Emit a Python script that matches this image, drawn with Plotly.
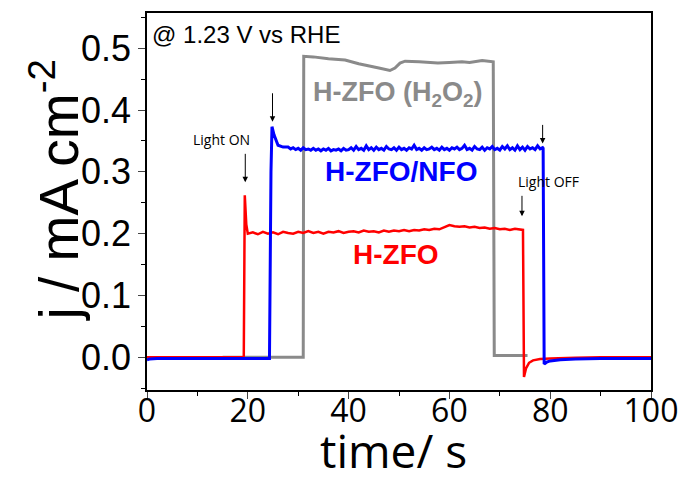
import plotly.graph_objects as go

# ---- chopped-light chronoamperometry at 1.23 V vs RHE ----
# H-ZFO (red)
t_zfo = [0, 5, 10, 15, 19.2, 19.4, 19.7, 20.0,
         21, 22, 23, 24, 25, 26, 27, 28, 29, 30,
         31, 32, 33, 34, 35, 36, 37, 38, 39, 40,
         41, 42, 43, 44, 45, 46, 47, 48, 49, 50,
         51, 52, 53, 54, 55, 56, 57, 58, 59, 60,
         61, 62, 63, 64, 65, 66, 67, 68, 69, 70,
         71, 72, 73, 74, 74.6, 74.8, 75.2, 75.8, 76.6, 78, 80, 85, 90, 100]
j_zfo = [0.000, 0.000, 0.000, 0.000, 0.000, 0.262, 0.215, 0.200,
         0.202, 0.199, 0.203, 0.200, 0.202, 0.199, 0.203, 0.201, 0.200, 0.203,
         0.201, 0.204, 0.201, 0.203, 0.200, 0.203, 0.202, 0.204, 0.201, 0.203,
         0.204, 0.202, 0.205, 0.203, 0.204, 0.202, 0.205, 0.203, 0.205, 0.204,
         0.206, 0.204, 0.206, 0.205, 0.207, 0.206, 0.208, 0.207, 0.210, 0.214,
         0.212, 0.211, 0.212, 0.210, 0.211, 0.209, 0.210, 0.208, 0.209, 0.207,
         0.208, 0.206, 0.208, 0.207, 0.206, -0.032, -0.018, -0.009, -0.005, -0.003, -0.002, -0.001, 0.000, 0.000]

# H-ZFO/NFO (blue)
t_nfo = [0, 0.5, 2, 5, 10, 15, 20, 24.3, 24.6, 24.8, 25.2, 25.6, 26, 27,
         28.0, 28.5, 29.0, 29.5, 30.0, 30.5, 31.0, 31.5, 32.0, 32.5,
         33.0, 33.5, 34.0, 34.5, 35.0, 35.5, 36.0, 36.5, 37.0, 37.5,
         38.0, 38.5, 39.0, 39.5, 40.0, 40.5, 41.0, 41.5, 42.0, 42.5,
         43.0, 43.5, 44.0, 44.5, 45.0, 45.5, 46.0, 46.5, 47.0, 47.5,
         48.0, 48.5, 49.0, 49.5, 50.0, 50.5, 51.0, 51.5, 52.0, 52.5,
         53.0, 53.5, 54.0, 54.5, 55.0, 55.5, 56.0, 56.5, 57.0, 57.5,
         58.0, 58.5, 59.0, 59.5, 60.0, 60.5, 61.0, 61.5, 62.0, 62.5,
         63.0, 63.5, 64.0, 64.5, 65.0, 65.5, 66.0, 66.5, 67.0, 67.5,
         68.0, 68.5, 69.0, 69.5, 70.0, 70.5, 71.0, 71.5, 72.0, 72.5,
         73.0, 73.5, 74.0, 74.5, 75.0, 75.5, 76.0, 76.5, 77.0, 77.5,
         78.0, 78.5, 78.6, 78.8, 79.3, 80, 82, 85, 90, 100]
j_nfo = [-0.004, -0.003, -0.002, -0.002, -0.002, -0.002, -0.002, -0.002, 0.300, 0.373, 0.360, 0.350, 0.343, 0.340,
         0.340, 0.337, 0.339, 0.336, 0.338, 0.335, 0.339, 0.336, 0.337, 0.335,
         0.338, 0.335, 0.337, 0.334, 0.337, 0.335, 0.338, 0.334, 0.336, 0.335,
         0.337, 0.334, 0.338, 0.335, 0.336, 0.339, 0.335, 0.341, 0.336, 0.338,
         0.335, 0.342, 0.336, 0.339, 0.335, 0.340, 0.336, 0.338, 0.335, 0.341,
         0.337, 0.336, 0.339, 0.335, 0.340, 0.336, 0.338, 0.335, 0.339, 0.337,
         0.343, 0.336, 0.338, 0.335, 0.339, 0.336, 0.337, 0.340, 0.336, 0.338,
         0.335, 0.340, 0.336, 0.338, 0.335, 0.339, 0.337, 0.340, 0.336, 0.338,
         0.343, 0.336, 0.338, 0.335, 0.341, 0.337, 0.336, 0.340, 0.335, 0.339,
         0.337, 0.341, 0.336, 0.338, 0.335, 0.341, 0.337, 0.342, 0.336, 0.339,
         0.335, 0.342, 0.336, 0.340, 0.335, 0.341, 0.337, 0.339, 0.336, 0.342,
         0.337, 0.339, 0.338, -0.011, -0.008, -0.006, -0.004, -0.003, -0.002, -0.002]

# H-ZFO in H2O2 (gray)
t_h2o2 = [15, 31.0, 31.1, 33, 36, 39.3, 42, 44, 46, 48.2, 49.2, 50.2, 51.2,
          54, 57.7, 60, 62.5, 64, 66.5, 68.7, 68.9, 75.5]
j_h2o2 = [0.000, 0.000, 0.487, 0.486, 0.483, 0.481, 0.475, 0.471, 0.468, 0.464, 0.468, 0.476, 0.479,
          0.478, 0.476, 0.477, 0.478, 0.477, 0.480, 0.478, 0.003, 0.003]

x_ticks = [0, 20, 40, 60, 80, 100]
y_ticks = [0.0, 0.1, 0.2, 0.3, 0.4, 0.5]
y_tick_text = ["0.0", "0.1", "0.2", "0.3", "0.4", "0.5"]

ARIAL = "Liberation Sans, Arial"
SANS = "Open Sans"

fig = go.Figure()
fig.add_trace(go.Scatter(x=t_h2o2, y=j_h2o2, mode="lines",
                         line=dict(color="#8a8a8a", width=3), name="H-ZFO (H2O2)"))
fig.add_trace(go.Scatter(x=t_zfo, y=j_zfo, mode="lines",
                         line=dict(color="#ff0000", width=2.5), name="H-ZFO"))
fig.add_trace(go.Scatter(x=t_nfo, y=j_nfo, mode="lines",
                         line=dict(color="#0000ff", width=3), name="H-ZFO/NFO"))

# series labels
fig.add_annotation(x=49.8, y=0.426, text="<b>H-ZFO (H<sub>2</sub>O<sub>2</sub>)</b>", showarrow=False,
                   font=dict(family=ARIAL, size=27, color="#8a8a8a"))
fig.add_annotation(x=50.4, y=0.300, text="<b>H-ZFO/NFO</b>", showarrow=False,
                   font=dict(family=ARIAL, size=28, color="#0000ff"))
fig.add_annotation(x=49.4, y=0.167, text="<b>H-ZFO</b>", showarrow=False,
                   font=dict(family=ARIAL, size=28, color="#ff0000"))
fig.add_annotation(x=0.5, y=0.523, text="@ 1.23 V vs RHE", showarrow=False, xanchor="left",
                   font=dict(family=ARIAL, size=24, color="black"))

# light on / off markers
fig.add_annotation(x=14.7, y=0.353, text="Light ON", showarrow=False,
                   font=dict(family=SANS, size=14, color="black"))
fig.add_annotation(x=79.6, y=0.284, text="Light OFF", showarrow=False,
                   font=dict(family=SANS, size=14, color="black"))
arrow_style = dict(text="", showarrow=True, arrowhead=2, arrowsize=1.1, arrowwidth=1,
                   arrowcolor="black", ax=0)
fig.add_annotation(x=19.5, y=0.283, ay=-30, **arrow_style)
fig.add_annotation(x=24.9, y=0.381, ay=-30, **arrow_style)
fig.add_annotation(x=74.4, y=0.228, ay=-22, **arrow_style)
fig.add_annotation(x=78.5, y=0.346, ay=-20, **arrow_style)

# axis titles
fig.add_annotation(xref="paper", yref="paper", x=-0.182, y=0.53, textangle=-90,
                   xanchor="center", yanchor="middle",
                   text="j / mA cm<sup>-2</sup>", showarrow=False,
                   font=dict(family=ARIAL, size=55, color="black"))
fig.add_annotation(xref="paper", yref="paper", x=0.49, y=-0.16,
                   xanchor="center", yanchor="middle",
                   text="time/ s", showarrow=False,
                   font=dict(family=SANS, size=46, color="black"))

fig.update_layout(
    width=682, height=483,
    margin=dict(l=147, r=31, t=13, b=93),
    plot_bgcolor="white", paper_bgcolor="white",
    showlegend=False,
)
fig.update_xaxes(
    range=[0, 100], tickvals=x_ticks, ticks="outside", ticklen=7, tickwidth=1.2,
    minor=dict(ticks="outside", ticklen=4, dtick=10, tickcolor="black"),
    showline=True, linecolor="black", linewidth=1.5, mirror=True,
    showgrid=False, zeroline=False, automargin=False,
    ticklabelstandoff=-15,
    tickfont=dict(family=SANS, size=32, color="black"),
)
fig.update_yaxes(
    range=[-0.053, 0.557], tickvals=y_ticks, ticktext=y_tick_text, ticks="outside", ticklen=7, tickwidth=1.2,
    minor=dict(ticks="outside", ticklen=4, tickvals=[-0.05, 0.05, 0.15, 0.25, 0.35, 0.45, 0.55], tickcolor="black"),
    showline=True, linecolor="black", linewidth=1.5, mirror=True,
    showgrid=False, zeroline=False, automargin=False,
    tickfont=dict(family=ARIAL, size=36, color="black"),
)

fig.write_html("out.html")
